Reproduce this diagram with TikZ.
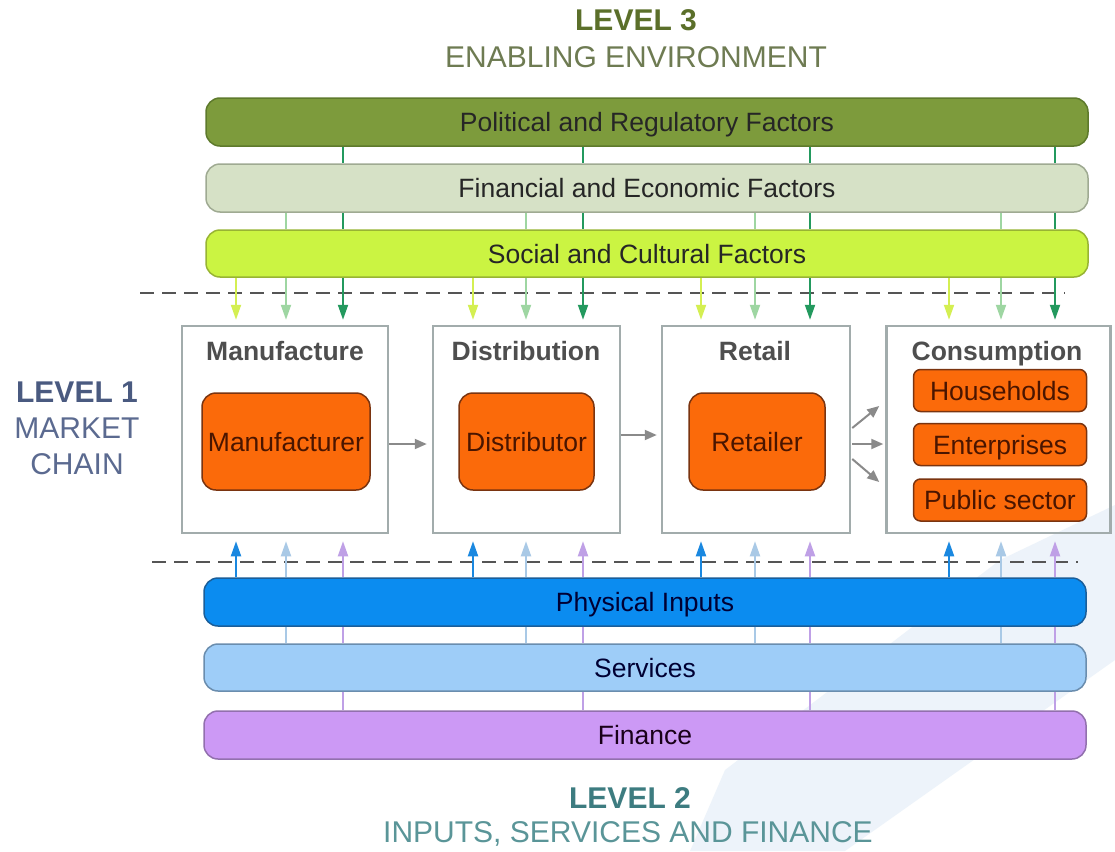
\documentclass[tikz,border=0pt]{standalone}
\usepackage{fontspec}
\setmainfont{Liberation Sans}
\usetikzlibrary{arrows.meta,calc}
\definecolor{polfill}{HTML}{7D9B3C}
\definecolor{polbrd}{HTML}{5E7A2C}
\definecolor{finfill}{HTML}{D6E1C6}
\definecolor{finbrd}{HTML}{9FAA92}
\definecolor{socfill}{HTML}{CBF442}
\definecolor{socbrd}{HTML}{98B433}
\definecolor{phyfill}{HTML}{0B8CF0}
\definecolor{phybrd}{HTML}{1A5E9A}
\definecolor{serfill}{HTML}{9ECDF8}
\definecolor{serbrd}{HTML}{6A8DAE}
\definecolor{fncfill}{HTML}{CC99F5}
\definecolor{fncbrd}{HTML}{9270AE}
\definecolor{orfill}{HTML}{FB6A0A}
\definecolor{orbrd}{HTML}{7A3410}
\definecolor{ortext}{HTML}{4A1500}
\definecolor{boxgray}{HTML}{A2ACAC}
\definecolor{titlegray}{HTML}{4E4E4E}
\definecolor{arrgray}{HTML}{8A8A8A}
\definecolor{dashgray}{HTML}{555555}
\definecolor{ygreen}{HTML}{D4EF52}
\definecolor{lgreen}{HTML}{9ED6A2}
\definecolor{dgreen}{HTML}{23995E}
\definecolor{iblue}{HTML}{1A88E0}
\definecolor{lblue}{HTML}{A9C9E6}
\definecolor{lilac}{HTML}{BFA0E6}
\definecolor{lvthree}{HTML}{5B6F2A}
\definecolor{lvthreeb}{HTML}{6E7B52}
\definecolor{lvone}{HTML}{4A5A80}
\definecolor{lvoneb}{HTML}{5B6A90}
\definecolor{lvtwo}{HTML}{3D7C80}
\definecolor{lvtwob}{HTML}{5A9598}
\definecolor{wmark}{HTML}{EDF3FA}
\newcommand\basefont{\fontsize{26.5}{30}\selectfont}
\newcommand\levfont{\fontsize{30}{34}\selectfont}
\begin{document}
\begin{tikzpicture}[x=1pt,y=-1pt,
  bar/.style={draw, rounded corners=14pt, minimum width=882pt, minimum height=48pt,
    line width=1.5pt, inner sep=0pt, font=\basefont, text=black!85,
    text height=24pt, text depth=5pt},
  stagebox/.style={draw=boxgray, line width=2.5pt, inner sep=0pt},
  title/.style={font=\basefont\bfseries, text=titlegray, inner sep=0pt,
    text height=24pt, text depth=5pt},
  orbox/.style={draw=orbrd, fill=orfill, rounded corners=14pt, line width=1.5pt,
    text=ortext, font=\basefont, inner sep=0pt, minimum height=97pt,
    text height=24pt, text depth=5pt},
  consbox/.style={orbox, rounded corners=7pt, minimum width=173pt, minimum height=42pt},
  flow/.style={draw=arrgray, line width=2pt, -{Triangle[length=12pt,width=10pt]}},
  drop/.style={line width=2pt, -{Triangle[length=15pt,width=10pt]}},
  link/.style={line width=2pt},
  dashline/.style={draw=dashgray, line width=2pt, dash pattern=on 14pt off 8pt},
  lev/.style={font=\levfont\bfseries, inner sep=0pt},
  levsub/.style={font=\levfont, inner sep=0pt}]
\useasboundingbox[fill=white] (0,0) rectangle (1115,851);
% faint watermark
\fill[wmark] (1000,560) -- (1115,505) -- (1115,660) -- (845,851) -- (690,851) -- (725,770) -- cycle;

% column positions
\coordinate (a1) at (236,0); \coordinate (a2) at (286,0); \coordinate (a3) at (343,0);
\coordinate (b1) at (473,0); \coordinate (b2) at (526,0); \coordinate (b3) at (583,0);
\coordinate (c1) at (701,0); \coordinate (c2) at (755,0); \coordinate (c3) at (810,0);
\coordinate (d1) at (949,0); \coordinate (d2) at (1001,0); \coordinate (d3) at (1055,0);

% headings
\node[lev, text=lvthree] (l3) at (636,20) {LEVEL 3};
\node[levsub, text=lvthreeb] (l3s) at (636,57) {ENABLING ENVIRONMENT};
\node[lev, text=lvone] (l1) at (77,392) {LEVEL 1};
\node[levsub, text=lvoneb] (l1a) at (77,428) {MARKET};
\node[levsub, text=lvoneb] (l1b) at (77,464) {CHAIN};
\node[lev, text=lvtwo] (l2) at (630,798) {LEVEL 2};
\node[levsub, text=lvtwob] (l2s) at (628,834) {INPUTS, SERVICES AND FINANCE};

% dashed separators
\coordinate (dt1) at (140,293); \coordinate (dt2) at (1065,293);
\coordinate (db1) at (152,562); \coordinate (db2) at (1078,562);
\draw[dashline] (dt1) -- (dt2);
\draw[dashline] (db1) -- (db2);

% level 3 bars
\node[bar, draw=polbrd, fill=polfill] (pol) at (647,122) {Political and Regulatory Factors};
\node[bar, draw=finbrd, fill=finfill] (fin) at (647,188) {Financial and Economic Factors};
\node[bar, draw=socbrd, fill=socfill, minimum height=47pt] (soc) at (647,253.5) {Social and Cultural Factors};

% level 2 bars
\node[bar, draw=phybrd, fill=phyfill, text=black!80!blue] (phy) at (645,602) {Physical Inputs};
\node[bar, draw=serbrd, fill=serfill, minimum height=47pt, text=black!80!blue] (ser) at (645,667.5) {Services};
\node[bar, draw=fncbrd, fill=fncfill, text=black!80!violet] (fnc) at (645,735) {Finance};

% stage boxes
\node[stagebox, minimum width=206pt, minimum height=207pt] (man) at (285,429.5) {};
\node[stagebox, minimum width=187pt, minimum height=207pt] (dis) at (526.5,429.5) {};
\node[stagebox, minimum width=188pt, minimum height=207pt] (ret) at (756,429.5) {};
\node[stagebox, minimum width=224pt, minimum height=207pt] (con) at (998.5,429.5) {};

\node[title] (tman) at (285,351) {Manufacture};
\node[title] (tdis) at (526,351) {Distribution};
\node[title] (tret) at (755,351) {Retail};
\node[title] (tcon) at (997,351) {Consumption};

\node[orbox, minimum width=168pt] (mfr) at (286,441.5) {Manufacturer};
\node[orbox, minimum width=135pt] (dst) at (526.5,441.5) {Distributor};
\node[orbox, minimum width=136pt] (rtl) at (757,441.5) {Retailer};

\node[consbox] (hh) at (1000,390.5) {Households};
\node[consbox] (ent) at (1000,444.5) {Enterprises};
\node[consbox] (pub) at (1000,500) {Public sector};

% flow arrows
\draw[flow] ([yshift=-14.5pt]man.east) -- ([xshift=-5pt,yshift=-14.5pt]dis.west);
\draw[flow] ([yshift=-5.5pt]dis.east) -- ([xshift=-4pt,yshift=-5.5pt]ret.west);
\draw[flow] ([xshift=1pt,yshift=1.5pt]ret.east) -- ([xshift=-6pt,yshift=23.5pt]con.west);
\draw[flow] ([xshift=1pt,yshift=-14.5pt]ret.east) -- ([xshift=-2pt,yshift=-14.5pt]con.west);
\draw[flow] ([xshift=1pt,yshift=-29.5pt]ret.east) -- ([xshift=-6pt,yshift=-52.5pt]con.west);

% level 3 links and arrows
\foreach \s/\t in {a/man, b/dis, c/ret, d/con}{
  \draw[link, dgreen] (pol.south -| \s3) -- (fin.north -| \s3);
  \draw[link, dgreen] (fin.south -| \s3) -- (soc.north -| \s3);
  \draw[link, lgreen] (fin.south -| \s2) -- (soc.north -| \s2);
  \draw[drop, ygreen, shorten >=5pt] (soc.south -| \s1) -- (\t.north -| \s1);
  \draw[drop, lgreen, shorten >=5pt] (soc.south -| \s2) -- (\t.north -| \s2);
  \draw[drop, dgreen, shorten >=5pt] (soc.south -| \s3) -- (\t.north -| \s3);
  % level 2
  \draw[link, lblue] (phy.south -| \s2) -- (ser.north -| \s2);
  \draw[link, lilac] (phy.south -| \s3) -- (ser.north -| \s3);
  \draw[link, lilac] (ser.south -| \s3) -- (fnc.north -| \s3);
  \draw[drop, iblue, shorten >=7pt] (phy.north -| \s1) -- (\t.south -| \s1);
  \draw[drop, lblue, shorten >=7pt] (phy.north -| \s2) -- (\t.south -| \s2);
  \draw[drop, lilac, shorten >=7pt] (phy.north -| \s3) -- (\t.south -| \s3);
}
\end{tikzpicture}
\end{document}
